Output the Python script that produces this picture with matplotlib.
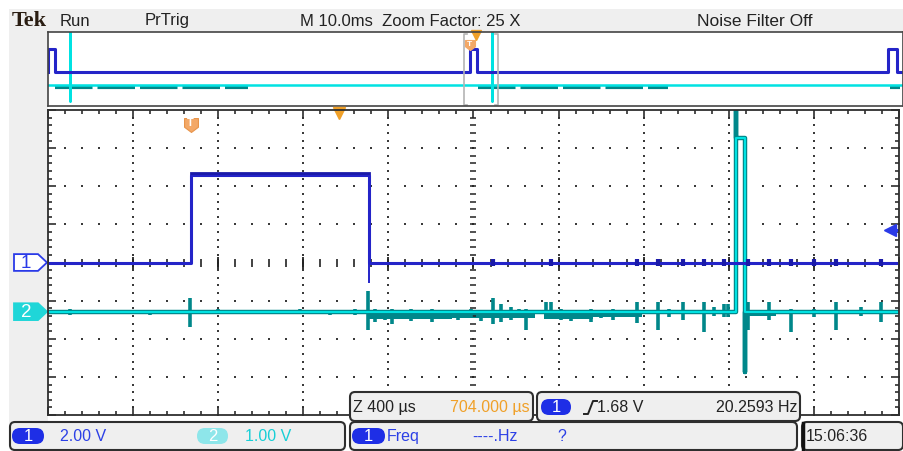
import numpy as np
import matplotlib.pyplot as plt
from matplotlib.patches import FancyBboxPatch, Rectangle, Polygon
from matplotlib.path import Path
import matplotlib.transforms as mtransforms

plt.rcParams['font.family'] = ['Liberation Sans Narrow', 'Liberation Sans', 'DejaVu Sans']

# scope settings (from the readouts)
ch1_scale = 2.00        # V/div
ch2_scale = 1.00        # V/div
ch1_pos = 0.0           # div
ch2_pos = -1.29         # div
trig_level = 1.68       # V
main_us_div = 400       # zoomed timebase
overview_ms_div = 10.0  # main timebase
zoom_factor = 25
zoom_start_ms = 48.65   # left edge of the zoom window in the record
zoom_mark_ms = 50.02    # orange zoom position marker
trig_ms = 49.32
freq_hz = 20.2593
clock = '15:06:36'

# channel 1 pulse train (record time, ms / V)
ch1_rise_ms = [-0.05, 49.32, 98.25]
ch1_fall_ms = [0.82, 50.16, 99.25]
ch1_high_v = 4.6
ch1_top_v = 4.71
ch1_undershoot_v = -1.05
ch1_blip_us = [2094, 2362, 2767, 2866, 2984, 3082, 3177, 3289, 3388, 3492, 3600, 3704, 3915]

# channel 2 pulses (record time, ms / V)
ch2_pulse_ms = [2.57, 51.883]
ch2_width_ms = 0.042
ch2_high_v = 4.55
ch2_spike_up_v = 7.5
ch2_spike_down_v = -1.58
# glitches in the zoom window: time (us), excursion up / down (V)
ch2_glitch_us = [104, 339, 480, 668, 800, 998, 1186, 1327, 1445, 1506,
                 1539, 1586, 1619, 1656, 1704, 1751, 1807, 1868, 1929, 1986,
                 2033, 2094, 2127, 2174, 2212, 2245, 2339, 2362, 2409, 2457,
                 2513, 2551, 2598, 2654, 2715, 2767, 2866, 2918, 2984, 3082,
                 3129, 3177, 3195, 3289, 3388, 3492, 3600, 3704, 3821, 3915]
ch2_glitch_up = [0.08, 0.05, 0.05, 0.37, 0.08, 0.05, 0.08, 0.05, 0.08, 0.53,
                 0.08, 0.05, 0.08, 0.05, 0.08, 0.05, 0.08, 0.05, 0.05, 0.08,
                 0.05, 0.37, 0.21, 0.11, 0.08, 0.08, 0.26, 0.26, 0.08, 0.05,
                 0.05, 0.08, 0.05, 0.08, 0.05, 0.26, 0.26, 0.08, 0.26, 0.26,
                 0.11, 0.21, 0.21, 0.26, 0.26, 0.08, 0.08, 0.26, 0.11, 0.26]
ch2_glitch_dn = [0.08, 0.05, 0.08, 0.39, 0.05, 0.05, 0.05, 0.08, 0.08, 0.47,
                 0.26, 0.21, 0.32, 0.16, 0.24, 0.18, 0.26, 0.13, 0.21, 0.16,
                 0.24, 0.32, 0.26, 0.21, 0.16, 0.47, 0.11, 0.11, 0.21, 0.24,
                 0.18, 0.26, 0.16, 0.21, 0.13, 0.29, 0.47, 0.13, 0.21, 0.53,
                 0.11, 0.13, 0.13, 0.47, 0.21, 0.53, 0.13, 0.47, 0.11, 0.26]
# noisy stretches of the ch2 baseline in the zoom window (us) and their depth (V)
ch2_band_us = [(1506, 1900), (1900, 2290), (2330, 2560), (2560, 2790), (3280, 3420)]
ch2_band_v = [0.20, 0.16, 0.18, 0.14, 0.12]
ch2_noise_ms = [(0.82, 23.4), (50.3, 72.5), (98.5, 99.6)]

BLUE = '#2424c8'
BLUE_TXT = '#2c40e6'
CYAN = '#00e2e2'
TEAL = '#00878a'
ORANGE = '#f0a028'
PALE_OR = '#f3a867'
GRAY = '#efefef'
EDGE = '#2e2e2e'

W, H = 904, 452
fig = plt.figure(figsize=(W / 100, H / 100), dpi=100)


def fax(x0, y0, x1, y1, **kw):
    return fig.add_axes([x0 / W, 1 - y1 / H, (x1 - x0) / W, (y1 - y0) / H], **kw)


def step_trace(rises, falls, low, high, t0, t1):
    xs, ys = [t0], [low]
    for r, f in zip(rises, falls):
        if f < t0 or r > t1:
            continue
        xs += [r, r, f, f]
        ys += [low, high, high, low]
    xs.append(t1)
    ys.append(low)
    return np.array(xs), np.array(ys)


def pulse_trace(starts, width, high, up, down, t0, t1, spikes=True):
    xs, ys = [t0], [0.0]
    for s in starts:
        if s + width < t0 or s > t1:
            continue
        if spikes:
            xs += [s, s, s, s + width, s + width, s + width]
            ys += [0, up, high, high, down, 0]
        else:
            xs += [s, s, s + width, s + width]
            ys += [0, high, high, 0]
    xs.append(t1)
    ys.append(0.0)
    return np.array(xs), np.array(ys)


shield = Path([(-1, 1), (1, 1), (1, -0.25), (0, -1), (-1, -0.25), (-1, 1)],
              [Path.MOVETO, Path.LINETO, Path.LINETO, Path.LINETO, Path.LINETO, Path.CLOSEPOLY])

# ---------- background / chrome ----------
bg = fax(0, 0, W, H, zorder=0)
bg.set_xlim(0, W)
bg.set_ylim(H, 0)
bg.axis('off')
bg.add_patch(Rectangle((9, 10), 894, 23, fc=GRAY, ec='none'))
bg.add_patch(Rectangle((9, 10), 39, 414, fc=GRAY, ec='none'))

bg.text(12, 21, 'Tek', family=['Liberation Serif', 'DejaVu Serif'], weight='bold',
        fontsize=16, color='#2a1d12', va='center')
bg.text(60, 21, 'Run', fontsize=12, color='#222', va='center')
bg.text(145, 21, 'PrTrig', fontsize=12, color='#222', va='center')
bg.text(300, 21, 'M %.1fms  Zoom Factor: %d X' % (overview_ms_div, zoom_factor),
        fontsize=12, color='#222', va='center')
bg.text(697, 21, 'Noise Filter Off', fontsize=12.5, color='#222', va='center')

# ---------- overview window ----------
ov = fax(48, 33, 903, 107, zorder=2)
ov.set_xlim(0, 10 * overview_ms_div)
ov.set_ylim(-3.4, 4.0)
ov.set_xticks([])
ov.set_yticks([])
for s in ov.spines.values():
    s.set_color('#444')
    s.set_linewidth(1.2)

for a, b in ch2_noise_ms:
    ov.plot([a, b], [ch2_pos - 0.17, ch2_pos - 0.17], color=TEAL, lw=3, dashes=(9, 1.2))
x2, y2 = pulse_trace(ch2_pulse_ms, ch2_width_ms, ch2_high_v, ch2_spike_up_v,
                     ch2_spike_down_v, 0, 10 * overview_ms_div)
ov.plot(x2, y2 / ch2_scale + ch2_pos, color=CYAN, lw=1.8)
x1, y1 = step_trace(ch1_rise_ms, ch1_fall_ms, 0, ch1_high_v, 0, 10 * overview_ms_div)
ov.plot(x1, y1 / ch1_scale + ch1_pos, color=BLUE, lw=2.2)

# zoom window bracket
z0, z1 = zoom_start_ms, zoom_start_ms + 10 * main_us_div / 1000
for zx, d in [(z0, 0.35), (z1, -0.35)]:
    ov.plot([zx + d, zx, zx, zx + d], [3.8, 3.8, -3.25, -3.25], color='#b4b4b4', lw=1.2)
ov.plot([trig_ms], [2.75], marker=shield, ms=7, color=PALE_OR, mec=PALE_OR)
ov.text(trig_ms, 2.85, 'T', color='white', fontsize=6, ha='center', va='center', weight='bold')
ov.plot([zoom_mark_ms], [3.75], marker='v', ms=7, color=ORANGE, clip_on=False)

# ---------- zoomed main graticule ----------
span = 10 * main_us_div
ax = fax(48, 111, 899, 416, zorder=2)
ax.set_xlim(0, span)
ax.set_ylim(-4, 4)
for s in ax.spines.values():
    s.set_color(EDGE)
    s.set_linewidth(1.3)
ax.set_xticks(np.arange(0, span + 1, main_us_div))
ax.set_xticks(np.arange(0, span + 1, main_us_div / 5), minor=True)
ax.set_yticks(np.arange(-4, 5, 1))
ax.set_yticks(np.arange(-4, 4.01, 0.2), minor=True)
ax.tick_params(which='both', direction='in', top=True, right=True,
               labelbottom=False, labelleft=False, color=EDGE, width=1.2)
ax.tick_params(which='major', length=6)
ax.tick_params(which='minor', length=3)

sub_x = np.arange(0, span + 1, main_us_div / 5)
sub_y = np.arange(-4, 4.01, 0.2)
for k in range(1, 10):
    if k == 5:
        continue
    ax.scatter(np.full(sub_y.size, k * main_us_div), sub_y, s=2.4, c='#3a3a3a', marker='s', lw=0)
for k in range(-3, 4):
    if k == 0:
        continue
    ax.scatter(sub_x, np.full(sub_x.size, k), s=2.4, c='#3a3a3a', marker='s', lw=0)
ax.plot(np.full(sub_y.size, span / 2), sub_y, ls='none', marker='_', ms=4.5, mew=1.1, color='#222')
ax.plot(sub_x, np.zeros(sub_x.size), ls='none', marker='|', ms=5.5, mew=1.2, color='#222')
ax.plot(np.arange(0, span + 1, main_us_div), np.zeros(11), ls='none', marker='|', ms=9, mew=1.3, color='#222')

# channel 2
t_us = lambda ms: (np.asarray(ms) - zoom_start_ms) * 1000
x2, y2 = pulse_trace(t_us(ch2_pulse_ms), ch2_width_ms * 1000, ch2_high_v, ch2_spike_up_v,
                     ch2_spike_down_v, 0, span)
ax.plot(x2, y2 / ch2_scale + ch2_pos, color=TEAL, lw=3.2)
for (a, b), d in zip(ch2_band_us, ch2_band_v):
    ax.fill_between([a, b], ch2_pos - d / ch2_scale, ch2_pos + 0.04, color=TEAL, lw=0)
g_top = ch2_pos + np.array(ch2_glitch_up) / ch2_scale
g_bot = ch2_pos - np.array(ch2_glitch_dn) / ch2_scale
ax.vlines(ch2_glitch_us, g_bot, g_top, color=TEAL, lw=2.6)
x2c, y2c = pulse_trace(t_us(ch2_pulse_ms), ch2_width_ms * 1000, ch2_high_v, 0, 0, 0, span, spikes=False)
ax.plot(x2c, y2c / ch2_scale + ch2_pos, color=CYAN, lw=1.5)

# channel 1
x1, y1 = step_trace(t_us(ch1_rise_ms), t_us(ch1_fall_ms), 0, ch1_high_v, 0, span)
ax.plot(x1, y1 / ch1_scale + ch1_pos, color=BLUE, lw=2.2)
for r, f in zip(t_us(ch1_rise_ms), t_us(ch1_fall_ms)):
    if 0 < r < span:
        ax.plot([r, f], [ch1_top_v / ch1_scale + ch1_pos] * 2, color='#1a1aa8', lw=2)
    if 0 < f < span:
        ax.vlines(f, ch1_undershoot_v / ch1_scale + ch1_pos, ch1_pos, color=BLUE, lw=1.4)
ax.vlines(ch1_blip_us, ch1_pos - 0.08, ch1_pos + 0.08, color='#1a1aa8', lw=3)

# markers on the graticule
tt = t_us(trig_ms)
ax.plot([tt], [3.6], marker=shield, ms=10, color=PALE_OR, mec='#e8944a', mew=0.8)
ax.text(tt, 3.69, 'T', color='white', fontsize=8, ha='center', va='center', weight='bold')
ax.plot([t_us(zoom_mark_ms)], [3.92], marker='v', ms=9, color=ORANGE, clip_on=False)
lvl = trig_level / ch1_scale + ch1_pos
ax.plot([span - 30, span], [lvl, lvl], color='#2a3ae8', lw=2.2)
ax.plot([span - 40], [lvl], marker='<', ms=8, color='#2a3ae8')

# channel ground markers on the left
tr = mtransforms.blended_transform_factory(bg.transData, ax.transData)
for pos, lab, fc, ec, tc in [(ch1_pos, '1', 'white', '#2a3ae8', '#2a3ae8'),
                             (ch2_pos, '2', '#1fd6d8', '#1fd6d8', 'white')]:
    h = 0.22
    ax.add_patch(Polygon([(14, pos + h), (38, pos + h), (47, pos), (38, pos - h), (14, pos - h)],
                         closed=True, fc=fc, ec=ec, lw=1.3, transform=tr, clip_on=False))
    ax.text(26, pos, lab, transform=tr, ha='center', va='center', fontsize=13.5, color=tc)

# ---------- readout boxes ----------
fg = fax(0, 0, W, H, zorder=5)
fg.set_xlim(0, W)
fg.set_ylim(H, 0)
fg.axis('off')
fg.patch.set_alpha(0)


def box(x0, y0, x1, y1, lw=1.5):
    fg.add_patch(FancyBboxPatch((x0, y0), x1 - x0, y1 - y0, boxstyle='round,pad=0,rounding_size=5',
                                fc=GRAY, ec=EDGE, lw=lw))


def badge(x0, x1, yc, lab, fc):
    fg.add_patch(FancyBboxPatch((x0, yc - 8), x1 - x0, 16, boxstyle='round,pad=0,rounding_size=8',
                                fc=fc, ec='none'))
    fg.text((x0 + x1) / 2, yc, lab, ha='center', va='center', color='white', fontsize=12)


fs = 11.5
box(350, 393, 533, 422)
fg.text(353, 408, 'Z %d µs' % main_us_div, fontsize=fs, color='#222', va='center')
fg.text(530, 408, '%.3f µs' % 704.0, fontsize=fs, color=ORANGE, va='center', ha='right')

box(537, 393, 800, 422)
badge(541, 571, 408, '1', '#1e2ee6')
fg.plot([584, 588, 593, 597], [415, 415, 402, 402], color='#222', lw=1.4)
fg.text(597, 408, '%.2f V' % trig_level, fontsize=fs, color='#222', va='center')
fg.text(797, 408, '%.4f Hz' % freq_hz, fontsize=fs, color='#222', va='center', ha='right')

box(10, 423, 345, 451)
badge(12, 44, 437, '1', '#1e2ee6')
fg.text(60, 437, '%.2f V' % ch1_scale, fontsize=fs, color=BLUE_TXT, va='center')
badge(197, 228, 437, '2', '#8ee6ea')
fg.text(245, 437, '%.2f V' % ch2_scale, fontsize=fs, color='#18cfd6', va='center')

box(350, 423, 797, 451)
badge(352, 385, 437, '1', '#1e2ee6')
fg.text(387, 437, 'Freq', fontsize=fs, color=BLUE_TXT, va='center')
fg.text(472, 437, '----.Hz', fontsize=fs, color=BLUE_TXT, va='center')
fg.text(557, 437, '?', fontsize=fs, color=BLUE_TXT, va='center')

box(802, 423, 903, 451)
fg.plot([803.5, 803.5], [424, 450], color='#111', lw=2.5)
fg.text(806, 437, clock, fontsize=fs, color='#222', va='center')

fig.savefig('out.png', dpi=100)
